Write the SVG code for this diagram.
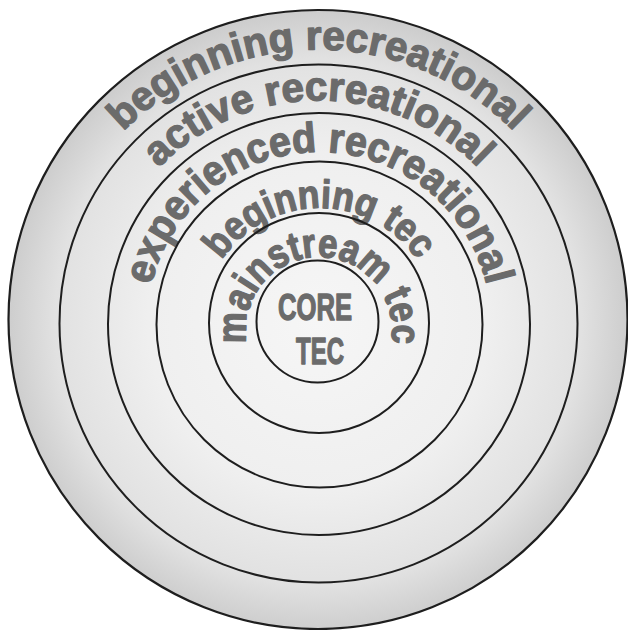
<svg xmlns="http://www.w3.org/2000/svg" xmlns:xlink="http://www.w3.org/1999/xlink" width="628" height="630" viewBox="0 0 628 630">
<style>
.ring{fill:none;stroke:#1e1e1e;stroke-width:2}
.lbl{font-family:"Liberation Sans",Arial,sans-serif;font-weight:bold;fill:#6b6b6b;stroke:#6b6b6b;stroke-width:1.3;stroke-linejoin:round}
</style>
<defs>
<radialGradient id="bg" cx="318" cy="322" r="310" gradientUnits="userSpaceOnUse">
<stop offset="0" stop-color="#f6f6f6"/>
<stop offset="0.55" stop-color="#efefef"/>
<stop offset="0.85" stop-color="#e1e1e1"/>
<stop offset="1" stop-color="#cdcdcd"/>
</radialGradient>
<path id="p1" d="M318.5,597.5 A274,274 0 1,1 318.5,49.5 A274,274 0 1,1 318.5,597.5"/>
<path id="p2" d="M318.5,546.5 A223,223 0 1,1 318.5,100.5 A223,223 0 1,1 318.5,546.5"/>
<path id="p3" d="M319,496 A172,172 0 1,1 319,152 A172,172 0 1,1 319,496"/>
<path id="p4" d="M319.5,444 A118,118 0 1,1 319.5,208 A118,118 0 1,1 319.5,444"/>
<path id="p5" d="M319,403 A73,73 0 1,1 319,257 A73,73 0 1,1 319,403"/>
</defs>
<rect width="628" height="630" fill="#ffffff"/>
<g id="ring-beginning-recreational">
<circle cx="318" cy="319.5" r="309.5" fill="url(#bg)" stroke="#1e1e1e" stroke-width="2.2"/>
<text class="lbl" font-size="41"><textPath href="#p1" xlink:href="#p1" startOffset="50%" text-anchor="middle" textLength="435" lengthAdjust="spacingAndGlyphs">beginning recreational</textPath></text>
</g>
<g id="ring-active-recreational">
<circle class="ring" cx="318.5" cy="323.5" r="259"/>
<text class="lbl" font-size="41"><textPath href="#p2" xlink:href="#p2" startOffset="50%" text-anchor="middle" textLength="356" lengthAdjust="spacingAndGlyphs">active recreational</textPath></text>
</g>
<g id="ring-experienced-recreational">
<circle class="ring" cx="319" cy="324" r="211"/>
<text class="lbl" font-size="42"><textPath href="#p3" xlink:href="#p3" startOffset="50%" text-anchor="middle" textLength="462" lengthAdjust="spacingAndGlyphs">experienced recreational</textPath></text>
</g>
<g id="ring-beginning-tec">
<circle class="ring" cx="319.5" cy="324.5" r="163"/>
<text class="lbl" font-size="40"><textPath href="#p4" xlink:href="#p4" startOffset="50%" text-anchor="middle" textLength="231" lengthAdjust="spacingAndGlyphs">beginning tec</textPath></text>
</g>
<g id="ring-mainstream-tec">
<circle class="ring" cx="319" cy="323" r="110"/>
<text class="lbl" font-size="41"><textPath href="#p5" xlink:href="#p5" startOffset="50%" text-anchor="middle" textLength="256" lengthAdjust="spacingAndGlyphs">mainstream tec</textPath></text>
</g>
<g id="core-tec">
<circle class="ring" cx="317.5" cy="321.5" r="61" fill="#f6f6f6"/>
<text class="lbl" font-size="36" x="315" y="320" text-anchor="middle" textLength="74" lengthAdjust="spacingAndGlyphs">CORE</text>
<text class="lbl" font-size="36" x="320" y="364" text-anchor="middle" textLength="48" lengthAdjust="spacingAndGlyphs">TEC</text>
</g>
<g id="connectors"/>
</svg>
